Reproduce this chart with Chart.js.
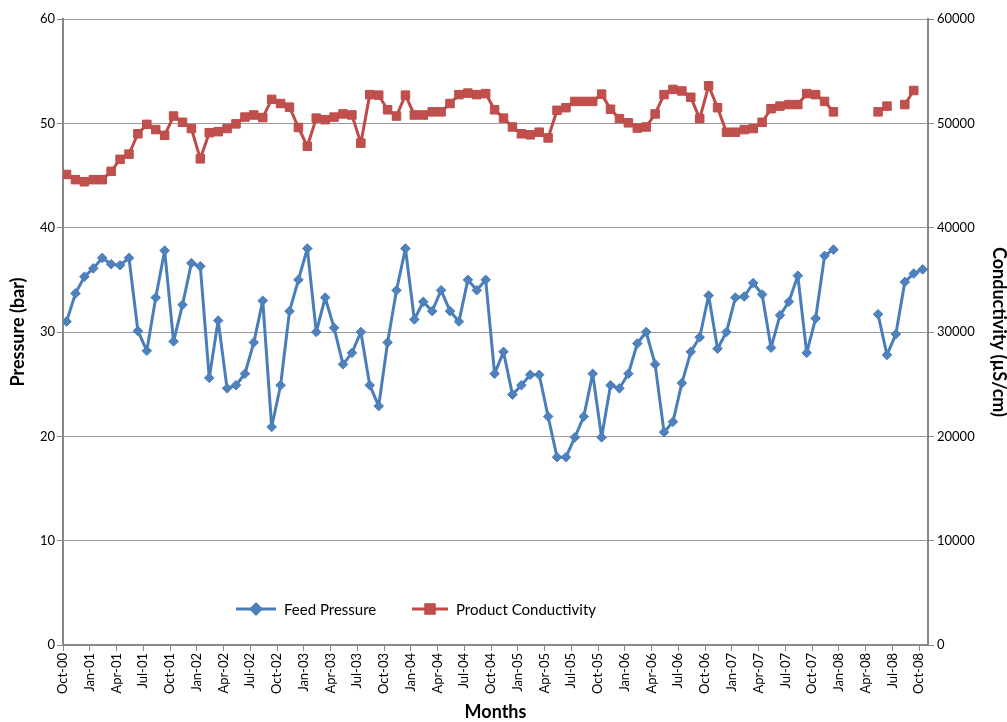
<!DOCTYPE html>
<html><head><meta charset="utf-8">
<script src="https://cdn.jsdelivr.net/npm/chart.js@4.4.1/dist/chart.umd.min.js"></script>
<style>html,body{margin:0;padding:0;background:#fff}canvas{display:block}</style>
</head><body>
<canvas id="c" width="1007" height="722"></canvas>
<script>
const months = [
 'Oct-00','Nov-00','Dec-00',
 'Jan-01','Feb-01','Mar-01','Apr-01','May-01','Jun-01','Jul-01','Aug-01','Sep-01','Oct-01','Nov-01','Dec-01',
 'Jan-02','Feb-02','Mar-02','Apr-02','May-02','Jun-02','Jul-02','Aug-02','Sep-02','Oct-02','Nov-02','Dec-02',
 'Jan-03','Feb-03','Mar-03','Apr-03','May-03','Jun-03','Jul-03','Aug-03','Sep-03','Oct-03','Nov-03','Dec-03',
 'Jan-04','Feb-04','Mar-04','Apr-04','May-04','Jun-04','Jul-04','Aug-04','Sep-04','Oct-04','Nov-04','Dec-04',
 'Jan-05','Feb-05','Mar-05','Apr-05','May-05','Jun-05','Jul-05','Aug-05','Sep-05','Oct-05','Nov-05','Dec-05',
 'Jan-06','Feb-06','Mar-06','Apr-06','May-06','Jun-06','Jul-06','Aug-06','Sep-06','Oct-06','Nov-06','Dec-06',
 'Jan-07','Feb-07','Mar-07','Apr-07','May-07','Jun-07','Jul-07','Aug-07','Sep-07','Oct-07','Nov-07','Dec-07',
 'Jan-08','Feb-08','Mar-08','Apr-08','May-08','Jun-08','Jul-08','Aug-08','Sep-08','Oct-08'
];

const feedPressure = [
 31.0,33.7,35.3,
 36.1,37.1,36.5,36.4,37.1,30.1,28.2,33.3,37.8,29.1,32.6,36.6,
 36.3,25.6,31.1,24.6,24.9,26.0,29.0,33.0,20.9,24.9,32.0,35.0,
 38.0,30.0,33.3,30.4,26.9,28.0,30.0,24.9,22.9,29.0,34.0,38.0,
 31.2,32.9,32.0,34.0,32.0,31.0,35.0,34.0,35.0,26.0,28.1,24.0,
 24.9,25.9,25.9,21.9,18.0,18.0,19.9,21.9,26.0,19.9,24.9,24.6,
 26.0,28.9,30.0,26.9,20.4,21.4,25.1,28.1,29.5,33.5,28.4,30.0,
 33.3,33.4,34.7,33.6,28.5,31.6,32.9,35.4,28.0,31.3,37.3,37.9,
 null,null,null,null,31.7,27.8,29.8,34.8,35.6,36.0
];

const productConductivity = [
 45100,44600,44400,
 44600,44600,45400,46550,47050,49000,49900,49400,48850,50700,50100,49500,
 46600,49100,49200,49500,49950,50600,50800,50550,52300,51900,51550,49600,
 47800,50500,50350,50600,50900,50800,48100,52750,52700,51300,50700,52700,
 50800,50800,51100,51100,51900,52750,52900,52750,52850,51300,50500,49650,
 49000,48900,49150,48600,51250,51500,52100,52100,52100,52800,51350,50450,
 50050,49550,49650,50900,52750,53250,53100,52500,50450,53600,51500,49150,
 49150,49400,49500,50100,51400,51650,51800,51800,52850,52750,52100,51100,
 null,null,null,null,51100,51650,null,51800,53150,null
];

const pressureTicks = [0,10,20,30,40,50,60];
const conductivityTicks = [0,10000,20000,30000,40000,50000,60000];
const sampleOffset = 0.4; // readings taken part-way through each month

const FONT = 'Lato, "Open Sans", sans-serif';
const AXIS = '#878787';

const toPoints = arr => arr.map((v, i) => ({x: i + sampleOffset, y: v}));

const insideLegend = {
  id: 'insideLegend',
  afterDatasetsDraw(chart, args, opts) {
    const ctx = chart.ctx;
    ctx.save();
    chart.data.datasets.forEach((ds, k) => {
      const it = opts.items[k];
      const y = opts.y;
      ctx.strokeStyle = ds.borderColor;
      ctx.lineWidth = ds.borderWidth;
      ctx.lineCap = 'butt';
      ctx.beginPath(); ctx.moveTo(it.x1, y); ctx.lineTo(it.x2, y); ctx.stroke();
      Chart.helpers.drawPoint(ctx, {
        pointStyle: ds.pointStyle, radius: ds.pointRadius, borderWidth: ds.pointBorderWidth, rotation: 0
      }, (it.x1 + it.x2) / 2, y);
      ctx.fillStyle = ds.pointBackgroundColor;
      ctx.strokeStyle = ds.pointBorderColor;
      ctx.lineWidth = ds.pointBorderWidth;
      ctx.fill(); ctx.stroke();
      ctx.fillStyle = '#000';
      ctx.font = '15px ' + FONT;
      ctx.textBaseline = 'middle';
      ctx.textAlign = 'left';
      ctx.fillText(ds.label, it.x2 + 8, y + 1);
    });
    ctx.restore();
  }
};

const titleFont = { family: FONT, size: 18, weight: 'bold' };

new Chart(document.getElementById('c'), {
  type: 'line',
  data: {
    datasets: [
      {
        label: 'Feed Pressure',
        data: toPoints(feedPressure),
        yAxisID: 'y',
        borderColor: '#4A7EBB', borderWidth: 3, borderJoinStyle: 'round', borderCapStyle: 'round',
        pointStyle: 'rectRot', pointRadius: 4.8, pointBorderWidth: 1,
        pointBackgroundColor: '#4F81BD', pointBorderColor: '#4A7EBB',
        spanGaps: false, tension: 0
      },
      {
        label: 'Product Conductivity',
        data: toPoints(productConductivity),
        yAxisID: 'y2',
        borderColor: '#BE4B48', borderWidth: 3, borderJoinStyle: 'round', borderCapStyle: 'round',
        pointStyle: 'rect', pointRadius: 6, pointBorderWidth: 1,
        pointBackgroundColor: '#C0504D', pointBorderColor: '#BE4B48',
        spanGaps: false, tension: 0
      }
    ]
  },
  options: {
    responsive: false,
    animation: false,
    devicePixelRatio: 1,
    layout: { padding: { top: 19, left: 0, right: 0, bottom: 0 } },
    plugins: {
      legend: { display: false },
      tooltip: { enabled: false },
      insideLegend: { y: 609, items: [ {x1: 236, x2: 276}, {x1: 412, x2: 448} ] }
    },
    scales: {
      x: {
        type: 'linear', min: 0, max: 97,
        afterFit(s) { s.height = 77; },
        border: { color: AXIS, width: 2 },
        grid: { drawOnChartArea: false, drawTicks: true, tickLength: 6, color: AXIS, tickWidth: 1 },
        ticks: {
          stepSize: 3, includeBounds: false, autoSkip: false,
          maxRotation: 90, minRotation: 90, padding: 2,
          color: '#000', font: { family: FONT, size: 13 },
          callback: v => months[v] ?? ''
        },
        title: { display: true, text: 'Months', color: '#000', font: titleFont, padding: { top: 0, bottom: -1 } }
      },
      y: {
        position: 'left', min: 0, max: 60,
        afterFit(s) { s.width = 63; },
        afterBuildTicks(s) { s.ticks = pressureTicks.map(v => ({value: v})); },
        border: { color: AXIS, width: 2 },
        grid: { color: '#9a9a9a', lineWidth: 1, tickLength: 6, tickColor: AXIS },
        ticks: { color: '#000', padding: 2, font: { family: FONT, size: 13 } },
        title: { display: true, text: 'Pressure (bar)', color: '#000', font: titleFont, padding: { top: 7, bottom: 0 } }
      },
      y2: {
        position: 'right', min: 0, max: 60000,
        afterFit(s) { s.width = 79; },
        afterBuildTicks(s) { s.ticks = conductivityTicks.map(v => ({value: v})); },
        border: { color: AXIS, width: 2 },
        grid: { drawOnChartArea: false, tickLength: 6, color: AXIS },
        ticks: { color: '#000', padding: 3, font: { family: FONT, size: 13 }, callback: v => String(v) },
        title: { display: true, text: 'Conductivity (µS/cm)', color: '#000', font: titleFont, padding: { top: -3, bottom: 0 } }
      }
    }
  },
  plugins: [insideLegend]
});
</script>
</body></html>
